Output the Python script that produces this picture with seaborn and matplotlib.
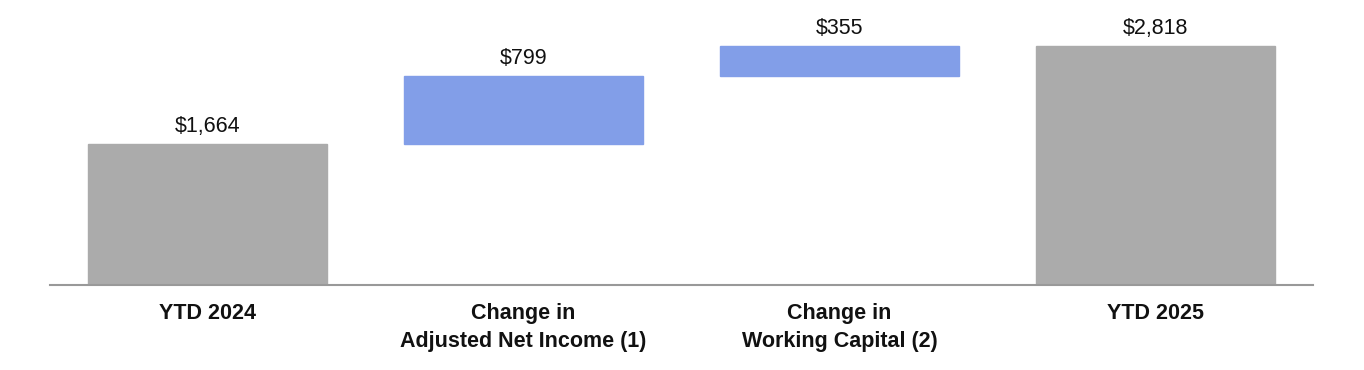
import matplotlib
matplotlib.use("Agg")
import matplotlib.pyplot as plt
import seaborn as sns
import pandas as pd

# Dados do gráfico (cascata)
categorias = ["YTD 2024", "Change in\nAdjusted Net Income (1)",
              "Change in\nWorking Capital (2)", "YTD 2025"]
valores = [1664, 799, 355, 2818]
bases = [0, 1664, 2463, 0]
rotulos = ["$1,664", "$799", "$355", "$2,818"]
cores = ["#ABABAB", "#829EE8", "#829EE8", "#ABABAB"]

sns.set_style("white")
plt.rcParams["font.family"] = ["Liberation Sans", "DejaVu Sans"]


def grafico_cascata():
    df = pd.DataFrame({"categoria": categorias, "valor": valores})
    fig = plt.figure(figsize=(13.64, 3.70), dpi=100)
    ax = fig.add_axes([50 / 1364, 85 / 370, 1263 / 1364, 285 / 370])

    sns.barplot(data=df, x="categoria", y="valor", color=cores[0],
                width=0.757, bottom=bases, saturation=1, ax=ax)

    # Cores por barra (cinza para totais, azul para variações)
    for barra, cor in zip(ax.patches, cores):
        barra.set_facecolor(cor)
        barra.set_edgecolor(cor)

    for i, (v, b, txt) in enumerate(zip(valores, bases, rotulos)):
        ax.annotate(txt, (i, v + b), xytext=(0, 5), textcoords="offset points",
                    ha="center", va="bottom", fontsize=15.5, color="#111111")

    ax.set_xlim(-0.5, 3.5)
    ax.set_ylim(0, 3360)
    ax.set_xlabel("")
    ax.set_ylabel("")
    ax.set_yticks([])
    for lado in ["top", "right", "left"]:
        ax.spines[lado].set_visible(False)
    ax.spines["bottom"].set_color("#999999")
    ax.spines["bottom"].set_linewidth(1.5)
    ax.tick_params(axis="x", length=0, pad=13)
    for rot in ax.get_xticklabels():
        rot.set_fontweight("bold")
        rot.set_fontsize(15.5)
        rot.set_linespacing(1.45)
        rot.set_color("#111111")

    fig.savefig("out.png", dpi=100)


if __name__ == "__main__":
    grafico_cascata()
